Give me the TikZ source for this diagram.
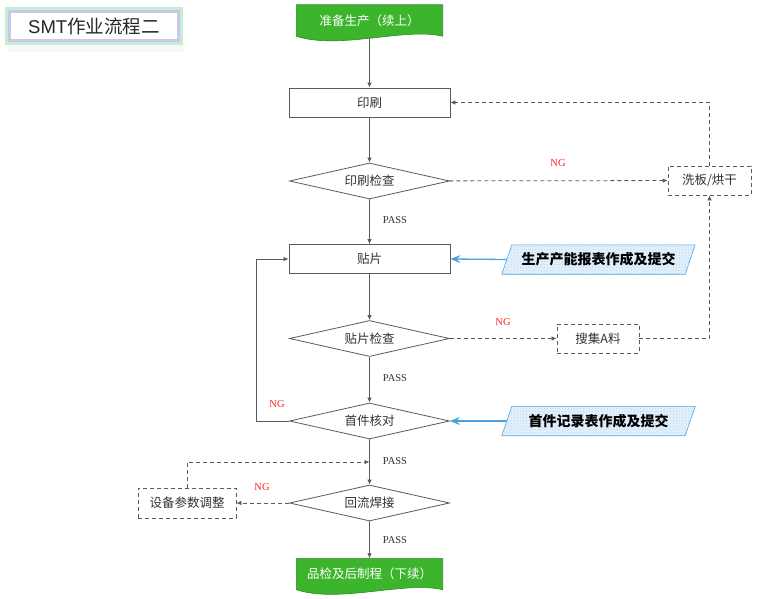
\documentclass[tikz,border=0pt]{standalone}
\usepackage{fontspec}
\setmainfont{Liberation Serif}
\newfontfamily\cjk{Noto Sans CJK SC}
\newfontfamily\arialf{Liberation Sans}
\usetikzlibrary{shapes.geometric,arrows.meta,patterns}
\definecolor{linec}{HTML}{5A5A5A}
\definecolor{txt}{HTML}{333333}
\definecolor{docgreen}{HTML}{3CB42C}
\definecolor{docedge}{HTML}{2E8A22}
\definecolor{bluel}{HTML}{4AA3DF}
\definecolor{bluefill}{HTML}{E6F1FB}
\definecolor{ngred}{HTML}{FF2020}
\definecolor{titlegreen}{HTML}{C6EDD0}
\definecolor{titlelav}{HTML}{C8C8E8}
\begin{document}
\begin{tikzpicture}[x=1pt,y=-1pt,
  box/.style={rectangle,draw=linec,line width=0.8pt,fill=white,minimum width=161pt,minimum height=29pt,inner sep=0pt,font=\cjk\fontsize{12.5}{14}\selectfont,text=txt},
  dia/.style={diamond,draw=linec,line width=0.8pt,fill=white,minimum width=160pt,minimum height=36pt,aspect=4.4,inner sep=0pt,font=\cjk\fontsize{12.5}{14}\selectfont,text=txt},
  dbox/.style={rectangle,draw=linec,line width=0.8pt,dash pattern=on 4pt off 3pt,fill=white,minimum width=83pt,minimum height=29pt,inner sep=0pt,font=\cjk\fontsize{12.5}{14}\selectfont,text=txt},
  doc/.style={rectangle,draw=none,minimum width=146pt,minimum height=31pt,inner sep=0pt,font=\cjk\fontsize{12.5}{14}\selectfont,text=white},
  rep/.style={rectangle,draw=none,minimum width=183pt,minimum height=29pt,inner sep=0pt,font=\cjk\bfseries\fontsize{14}{16}\selectfont,text=black},
  flow/.style={draw=linec,line width=0.8pt,-{Latex[length=5pt,width=4.5pt]}},
  dflow/.style={flow,dash pattern=on 4pt off 3pt},
  bflow/.style={draw=bluel,line width=1.3pt,-{Stealth[length=10pt,width=8pt,inset=3.5pt]}},
  pass/.style={font=\fontsize{10.5}{12}\selectfont,text=txt},
  ng/.style={font=\fontsize{10.5}{12}\selectfont,text=ngred}
]
\useasboundingbox[fill=white] (0,0) rectangle (768,599);

% title
\fill[black!3] (8,45) rectangle (184,52);
\draw[titlegreen,line width=3pt] (6.5,8.5) rectangle (181.5,43.5);
\draw[titlelav,line width=2.5pt] (9.5,11.5) rectangle (178.5,40.5);
\node[font=\fontsize{18.5}{20}\selectfont,text=black!85] (title) at (94,26) {{\arialf SMT}{\cjk 作业流程二}};

% main nodes
\node[doc] (start) at (369.5,20.5) {准备生产（续上）};
\node[box] (print) at (369.5,102.5) {印刷};
\node[dia] (pcheck) at (369.5,181) {印刷检查};
\node[dbox] (wash) at (709.5,180.5) {洗板/烘干};
\node[box] (mount) at (369.5,259) {贴片};
\node[dia] (mcheck) at (369.5,338.5) {贴片检查};
\node[dbox,minimum width=82pt] (collect) at (598,338.5) {搜集A料};
\node[dia] (first) at (369.5,421) {首件核对};
\node[dia] (reflow) at (369.5,503) {回流焊接};
\node[dbox,minimum width=98pt,minimum height=30pt] (adjust) at (187,503) {设备参数调整};
\node[doc] (end) at (369.5,574) {品检及后制程（下续）};
\node[rep] (rep1) at (598.5,259.5) {};
\node[rep] (rep2) at (598.5,421) {};
\coordinate (join) at (369.5,462);

% connectors
\draw[flow] ([yshift=-2pt]start.south) -- (print);
\draw[flow] (print) -- (pcheck);
\draw[flow] (pcheck) -- (mount);
\draw[dflow] (pcheck) -- (wash);
\draw[dflow] (wash.north) |- (print.east);
\draw[flow] (mount) -- (mcheck);
\draw[dflow] (mcheck) -- (collect);
\draw[dflow] (collect.east) -| (wash.south);
\draw[flow] (mcheck) -- (first);
\draw[flow] (first.west) -- ++(-33,0) |- (mount.west);
\draw[flow] (first) -- (reflow);
\draw[dflow] (reflow) -- (adjust);
\draw[dflow] (adjust.north) |- (join);
\draw[flow] (reflow) -- (end);
\draw[bflow] (rep1.west) -- (mount.east);
\draw[bflow] (rep2.west) -- (first.east);

% document shapes
\foreach \n in {start,end}{
  \filldraw[fill=docgreen,draw=docedge,line width=0.6pt]
    (\n.north west) -- (\n.north east) -- (\n.south east)
    .. controls ([xshift=-38pt,yshift=9pt]\n.south east) and ([xshift=43pt,yshift=-14pt]\n.south west) .. (\n.south west) -- cycle;
}
\node[doc] at (start) {准备生产（续上）};
\node[doc] at (end) {品检及后制程（下续）};

% report parallelograms
\foreach \n in {rep1,rep2}{
  \filldraw[fill=bluefill,draw=bluel,line width=0.6pt]
    ([xshift=-5pt]\n.south west) -- ([xshift=5pt]\n.north west) -- ([xshift=5pt]\n.north east) -- ([xshift=-5pt]\n.south east) -- cycle;
  \path[pattern=crosshatch dots,pattern color=bluel!45]
    ([xshift=-5pt]\n.south west) -- ([xshift=5pt]\n.north west) -- ([xshift=5pt]\n.north east) -- ([xshift=-5pt]\n.south east) -- cycle;
}
\node[rep] at (rep1) {生产产能报表作成及提交};
\node[rep] at (rep2) {首件记录表作成及提交};

% labels
\node[pass] (l1) at (395,220) {PASS};
\node[pass] (l2) at (395,378.5) {PASS};
\node[pass] (l3) at (395,461.5) {PASS};
\node[pass] (l4) at (395,540) {PASS};
\node[ng] (n1) at (558,163.5) {NG};
\node[ng] (n2) at (503,322) {NG};
\node[ng] (n3) at (277,404) {NG};
\node[ng] (n4) at (262,487) {NG};
\end{tikzpicture}
\end{document}
